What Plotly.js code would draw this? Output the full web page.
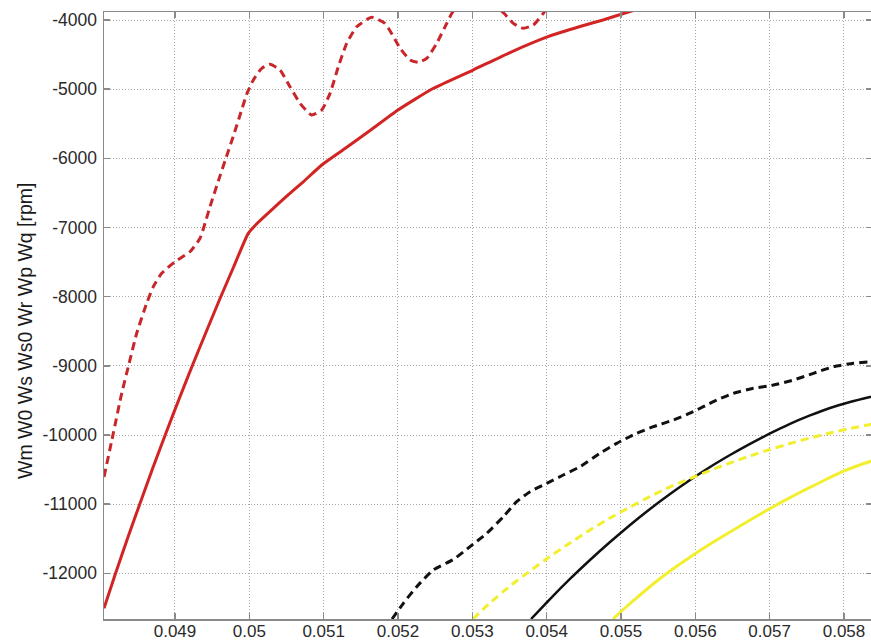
<!DOCTYPE html>
<html>
<head>
<meta charset="utf-8">
<script src="https://cdn.plot.ly/plotly-3.0.1.min.js"></script>
<style>
html,body{margin:0;padding:0;background:#fff;overflow:hidden;}
#chart{width:872px;height:644px;}
</style>
</head>
<body>
<div id="chart"></div>
<script>
// ---- data ----
const redDashX = [0.048045, 0.04817, 0.048283, 0.048372, 0.048485, 0.048619, 0.048708, 0.048821, 0.049, 0.049202, 0.049337, 0.049404, 0.049471, 0.049583, 0.049686, 0.049794, 0.049888, 0.049969, 0.050054, 0.050167, 0.050278, 0.050413, 0.050547, 0.050682, 0.050839, 0.050974, 0.051086, 0.051197, 0.05131, 0.051445, 0.051647, 0.051825, 0.052027, 0.052162, 0.052274, 0.052386, 0.052521, 0.052656, 0.052754, 0.053077, 0.053417, 0.053552, 0.053686, 0.053821, 0.053955, 0.054113];
const redDashY = [-10607, -9975, -9397, -9012, -8529, -8096, -7856, -7662, -7494, -7350, -7156, -6939, -6699, -6328, -5995, -5648, -5330, -5060, -4867, -4698, -4640, -4723, -4964, -5204, -5373, -5301, -5060, -4675, -4337, -4097, -3961, -4048, -4405, -4578, -4612, -4554, -4337, -4048, -3855, -3650, -3894, -4048, -4120, -4072, -3903, -3640];

const redSolidX = [0.048045, 0.048193, 0.048368, 0.048529, 0.048704, 0.048889, 0.049067, 0.049242, 0.049427, 0.049606, 0.049794, 0.049986, 0.050117, 0.050305, 0.050507, 0.050722, 0.050991, 0.051287, 0.051624, 0.052, 0.052471, 0.053009, 0.053507, 0.054018, 0.054449, 0.054758, 0.055054, 0.055323];
const redSolidY = [-12505, -12024, -11474, -10990, -10470, -9942, -9446, -8973, -8489, -8026, -7556, -7084, -6928, -6740, -6544, -6342, -6082, -5858, -5598, -5301, -4990, -4723, -4470, -4241, -4094, -4000, -3899, -3812];

const blackDashX = [0.05192, 0.052072, 0.052252, 0.052475, 0.052744, 0.052969, 0.053194, 0.053417, 0.053597, 0.053776, 0.054001, 0.054224, 0.054449, 0.054718, 0.054943, 0.055212, 0.055435, 0.055704, 0.055973, 0.056242, 0.056511, 0.05678, 0.05705, 0.057319, 0.057588, 0.057857, 0.058126, 0.05835, 0.058485];
const blackDashY = [-12660, -12433, -12193, -11951, -11800, -11614, -11421, -11181, -10964, -10819, -10698, -10578, -10458, -10264, -10120, -9975, -9880, -9783, -9663, -9518, -9397, -9325, -9277, -9205, -9108, -9012, -8963, -8940, -8930];

const blackSolidX = [0.05379, 0.054045, 0.054314, 0.054583, 0.054853, 0.055122, 0.055391, 0.05566, 0.055929, 0.056198, 0.056467, 0.056736, 0.057005, 0.057274, 0.057543, 0.057812, 0.058081, 0.05835, 0.058552];
const blackSolidY = [-12660, -12371, -12081, -11807, -11547, -11301, -11069, -10853, -10650, -10462, -10289, -10127, -9977, -9838, -9716, -9609, -9523, -9450, -9400];

const yellowDashX = [0.053009, 0.053238, 0.053507, 0.053776, 0.054045, 0.054314, 0.054583, 0.054853, 0.055122, 0.055391, 0.05566, 0.055929, 0.056198, 0.056467, 0.056736, 0.057005, 0.057274, 0.057543, 0.057812, 0.058081, 0.05835, 0.058552];
const yellowDashY = [-12660, -12428, -12183, -11966, -11756, -11561, -11373, -11200, -11041, -10889, -10751, -10629, -10513, -10404, -10303, -10209, -10123, -10043, -9971, -9906, -9848, -9812];

const yellowSolidX = [0.054893, 0.055054, 0.055256, 0.055458, 0.05566, 0.055862, 0.056063, 0.056332, 0.056669, 0.057005, 0.057341, 0.057678, 0.058001, 0.05835, 0.058552];
const yellowSolidY = [-12660, -12501, -12313, -12132, -11966, -11814, -11669, -11489, -11272, -11062, -10867, -10686, -10520, -10383, -10318];

const xTickVals = [0.049, 0.05, 0.051, 0.052, 0.053, 0.054, 0.055, 0.056, 0.057, 0.058];
const xTickText = ['0.049', '0.05', '0.051', '0.052', '0.053', '0.054', '0.055', '0.056', '0.057', '0.058'];
const yTickVals = [-12000, -11000, -10000, -9000, -8000, -7000, -6000, -5000, -4000];
const yTickText = ['-12000', '-11000', '-10000', '-9000', '-8000', '-7000', '-6000', '-5000', '-4000'];
const yTitle = 'Wm W0 Ws Ws0 Wr Wp Wq [rpm]';

// ---- styles ----
const RED = '#d32424';
const RED_D = '#c8262a';
const BLACK = '#111111';
const YELLOW = '#f2ef2e';
const DASH = '8px,5px';
const FONT = 'Liberation Sans, Arial, sans-serif';

function tr(x, y, color, dash, w) {
  return {
    x: x, y: y, type: 'scatter', mode: 'lines',
    line: {color: color, width: w, dash: dash, shape: 'spline', smoothing: 0.5},
    hoverinfo: 'skip', showlegend: false
  };
}

const data = [
  tr(redDashX, redDashY, RED_D, DASH, 3),
  tr(redSolidX, redSolidY, RED, 'solid', 3),
  tr(blackDashX, blackDashY, BLACK, DASH, 3),
  tr(blackSolidX, blackSolidY, BLACK, 'solid', 2.5),
  tr(yellowDashX, yellowDashY, YELLOW, DASH, 3),
  tr(yellowSolidX, yellowSolidY, YELLOW, 'solid', 3)
];

const axisCommon = {
  showline: true, linecolor: '#8a8a8a', linewidth: 1.5,
  mirror: 'ticks', ticks: 'inside', ticklen: 6, tickwidth: 1.5, tickcolor: '#8a8a8a',
  showgrid: true, gridcolor: '#a8a8a8', gridwidth: 1, griddash: '1px,2px',
  zeroline: false
};

const layout = {
  width: 872, height: 644,
  margin: {l: 104, r: 0, t: 12, b: 25, pad: 0},
  paper_bgcolor: '#ffffff', plot_bgcolor: '#ffffff',
  xaxis: Object.assign({}, axisCommon, {
    range: [0.048045, 0.058377], tickvals: xTickVals, ticktext: xTickText,
    ticklabelstandoff: -4,
    tickfont: {family: FONT, size: 17, color: '#2a2a2a'}
  }),
  yaxis: Object.assign({}, axisCommon, {
    range: [-12660, -3884], tickvals: yTickVals, ticktext: yTickText, ticklabelstandoff: 2,
    tickfont: {family: FONT, size: 17.5, color: '#2a2a2a'}
  }),
  annotations: [{
    text: yTitle, textangle: -90, showarrow: false,
    xref: 'paper', yref: 'paper', x: -0.102, y: 0.474,
    xanchor: 'center', yanchor: 'middle',
    font: {family: FONT, size: 19.5, color: '#1a1a1a'}
  }]
};

Plotly.newPlot('chart', data, layout, {staticPlot: true, displayModeBar: false});
</script>
</body>
</html>
